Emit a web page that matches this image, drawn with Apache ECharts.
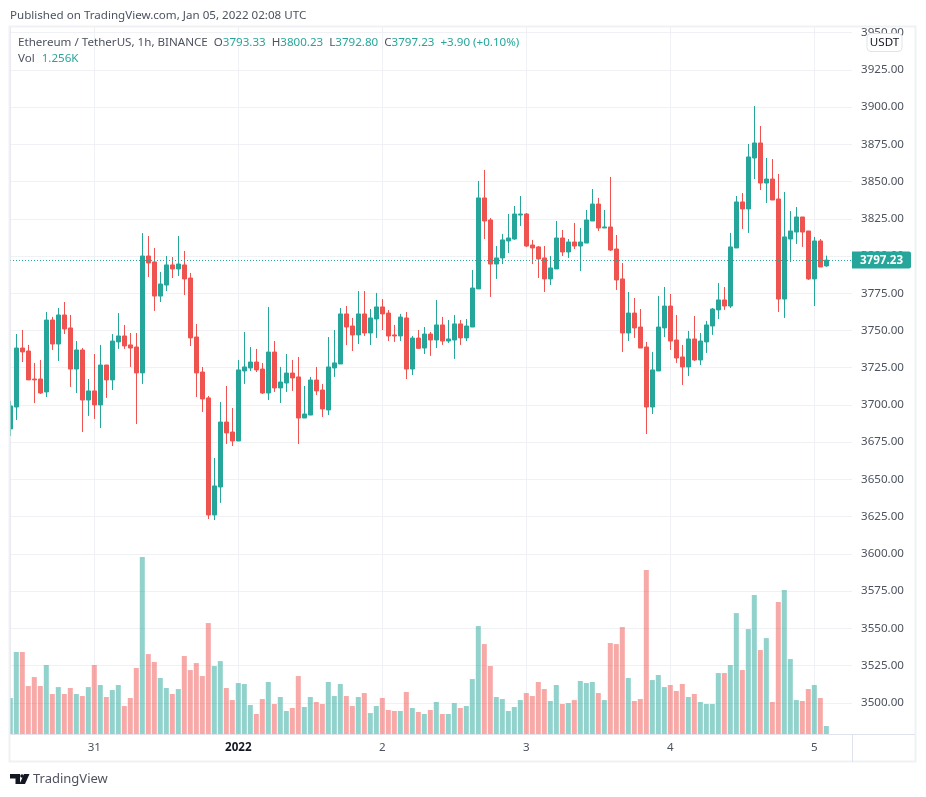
<!DOCTYPE html>
<html>
<head>
<meta charset="utf-8">
<title>ETHUSDT 1h</title>
<script src="https://cdn.jsdelivr.net/npm/echarts@6/dist/echarts.min.js"></script>
<style>
  html, body { margin: 0; padding: 0; background: #fff; }
  #chart { width: 926px; height: 797px; }
</style>
</head>
<body>
<div id="chart"></div>
<script>
// hourly candles, index 0 is the partly hidden one on the left edge
var opens = [
  3683.9,3698.6,3738.2,3736.2,3717.4,3717.4,3708.7,3757.0,3740.9,3760.4,
  3751.7,3724.1,3736.9,3703.3,3709.4,3700.0,3726.8,3716.8,3742.3,3746.3,
  3740.3,3738.9,3721.5,3800.0,3796.0,3773.1,3780.5,3794.0,3791.3,3794.0,
  3785.2,3745.6,3722.1,3704.7,3626.1,3644.9,3688.5,3681.8,3675.8,3722.8,
  3724.8,3728.8,3724.1,3708.0,3735.5,3711.4,3714.7,3721.4,3718.8,3691.2,
  3693.2,3716.7,3710.0,3696.6,3724.8,3727.5,3761.1,3753.0,3747.0,3761.1,
  3748.3,3757.7,3765.8,3761.7,3747.0,3746.3,3758.4,3724.1,3744.9,3738.2,
  3747.6,3743.6,3753.7,3742.9,3743.6,3754.4,3745.0,3752.3,3777.9,3839.0,
  3824.2,3794.6,3798.7,3810.1,3811.4,3827.5,3828.2,3807.4,3806.1,3798.7,
  3784.6,3791.3,3812.1,3802.7,3809.4,3806.7,3808.7,3823.5,3834.9,3818.8,
  3819.5,3804.7,3784.6,3748.3,3761.7,3752.3,3738.9,3698.6,3722.8,3751.7,
  3766.4,3743.6,3732.2,3725.5,3744.3,3730.2,3742.3,3753.0,3763.8,3770.5,
  3766.4,3805.4,3836.3,3831.6,3865.8,3875.9,3849.0,3851.7,3838.3,3771.1,
  3811.4,3816.1,3826.2,3816.8,3784.6,3810.1,3793.33
];
var closes = [
  3699.3,3738.2,3735.6,3716.8,3716.8,3708.0,3757.0,3740.9,3760.4,3751.0,
  3724.1,3736.9,3703.3,3709.4,3700.0,3726.8,3716.8,3742.9,3746.3,3739.6,
  3738.2,3721.5,3800.0,3795.3,3773.1,3781.2,3794.0,3791.3,3794.6,3784.6,
  3745.0,3721.5,3704.0,3626.1,3645.6,3688.5,3681.2,3675.8,3723.5,3725.5,
  3728.8,3723.5,3708.0,3735.5,3711.4,3715.4,3721.4,3718.1,3691.2,3693.9,
  3716.7,3709.4,3697.3,3725.5,3728.2,3761.1,3752.3,3747.0,3761.1,3748.3,
  3758.4,3765.8,3761.1,3746.3,3746.3,3759.0,3724.1,3744.9,3738.0,3747.6,
  3743.6,3753.7,3742.9,3744.3,3754.4,3745.0,3753.0,3778.5,3839.0,3823.5,
  3794.6,3798.7,3810.8,3812.1,3828.2,3828.2,3806.7,3805.4,3798.0,3784.6,
  3792.0,3812.1,3802.7,3809.4,3806.7,3809.4,3824.2,3834.9,3818.8,3819.5,
  3804.0,3783.9,3748.3,3761.7,3751.7,3738.2,3698.6,3723.5,3752.3,3766.4,
  3742.9,3731.5,3725.5,3744.3,3730.2,3742.9,3753.7,3764.4,3770.5,3766.4,
  3806.1,3836.3,3831.6,3866.5,3875.9,3849.0,3851.7,3837.6,3771.1,3812.8,
  3816.8,3826.2,3816.1,3784.6,3810.1,3792.6,3797.23
];
var lows = [
  3679.2,3689.9,3728.8,3716.8,3701.3,3707.4,3705.3,3736.9,3729.5,3747.6,
  3712.1,3708.0,3681.8,3692.6,3690.6,3684.5,3704.7,3710.0,3737.6,3737.6,
  3725.5,3687.2,3714.1,3785.9,3763.1,3769.1,3776.5,3785.2,3786.6,3773.8,
  3739.6,3705.3,3695.3,3623.4,3622.7,3634.2,3673.8,3672.4,3675.8,3714.1,
  3722.8,3722.1,3707.3,3703.3,3708.7,3701.3,3708.7,3709.4,3673.8,3691.2,
  3693.2,3706.7,3691.9,3693.2,3718.8,3727.5,3740.2,3736.2,3740.9,3746.3,
  3740.2,3744.9,3750.3,3742.9,3742.3,3742.9,3717.4,3720.1,3737.6,3734.2,
  3732.9,3738.2,3740.3,3741.6,3730.9,3740.3,3742.9,3752.3,3777.9,3811.4,
  3772.5,3784.6,3794.6,3802.0,3810.8,3820.2,3806.1,3794.6,3785.2,3775.8,
  3780.5,3791.3,3800.0,3798.7,3804.7,3789.9,3808.7,3823.5,3816.8,3818.8,
  3803.4,3777.2,3735.6,3742.9,3745.0,3738.2,3680.5,3693.9,3722.8,3745.6,
  3736.9,3728.2,3713.4,3719.4,3729.5,3726.8,3734.9,3747.0,3757.7,3763.8,
  3765.1,3805.4,3818.1,3815.5,3851.7,3844.3,3835.6,3837.6,3762.4,3758.4,
  3796.0,3808.1,3806.1,3783.9,3766.4,3792.6,3792.80
];
var highs = [
  3702.7,3747.6,3750.3,3740.3,3728.2,3730.2,3762.4,3759.1,3765.1,3769.1,
  3760.4,3742.9,3738.2,3717.4,3734.2,3740.3,3726.8,3747.6,3761.7,3753.7,
  3748.3,3748.3,3815.4,3813.4,3805.4,3789.3,3800.0,3799.3,3813.4,3803.4,
  3788.6,3754.3,3725.5,3706.0,3664.4,3702.0,3712.7,3697.9,3730.2,3749.0,
  3738.9,3737.6,3728.2,3765.8,3742.9,3725.5,3734.2,3730.2,3732.2,3712.7,
  3718.8,3725.5,3714.1,3745.6,3750.3,3765.1,3766.4,3758.4,3776.5,3776.5,
  3764.4,3775.2,3771.1,3763.7,3753.7,3761.1,3762.4,3746.3,3750.3,3752.3,
  3749.0,3770.5,3759.1,3757.0,3760.4,3757.0,3757.7,3790.6,3850.4,3857.8,
  3825.5,3806.7,3814.8,3828.2,3833.6,3840.3,3828.9,3810.8,3806.7,3806.7,
  3800.0,3823.5,3817.5,3811.4,3822.2,3818.8,3830.9,3845.0,3839.0,3830.9,
  3853.1,3814.1,3795.3,3775.8,3771.8,3764.4,3742.3,3735.6,3773.2,3779.2,
  3774.5,3760.4,3740.3,3749.7,3759.7,3748.3,3756.4,3765.1,3781.9,3779.2,
  3815.5,3840.3,3842.3,3875.2,3900.7,3887.3,3865.8,3865.1,3855.1,3843.0,
  3830.2,3832.9,3826.2,3816.8,3812.8,3811.4,3800.23
];
// volume in thousands of ETH
var volumes = [
  5.65,12.87,12.87,7.53,8.94,7.53,10.83,6.28,7.37,6.28,
  7.22,6.28,5.96,7.37,10.83,7.69,5.81,6.90,7.69,4.39,
  5.65,10.36,27.77,12.55,11.30,8.79,7.22,6.28,7.06,12.24,
  10.04,11.14,9.10,17.42,10.67,11.45,7.22,5.33,8.00,7.85,
  4.55,3.14,5.49,8.16,4.71,5.81,3.61,4.08,9.10,4.24,
  5.81,5.02,4.71,8.16,5.96,7.85,5.96,4.39,5.81,6.43,
  3.29,4.39,5.65,3.77,3.61,3.61,6.59,4.08,3.45,3.14,
  3.77,5.02,3.14,3.14,4.86,4.08,4.39,8.63,16.95,14.12,
  10.67,5.81,5.49,3.61,4.24,5.33,6.43,5.96,8.16,7.06,
  5.18,7.69,4.71,4.86,5.33,8.32,8.00,8.16,6.43,5.33,
  14.28,14.12,16.79,8.79,5.18,5.49,25.73,8.47,9.26,7.37,
  7.69,6.75,7.85,5.81,6.28,5.02,4.71,4.71,9.57,9.57,
  10.83,18.98,10.04,16.47,21.81,13.18,15.06,5.02,20.71,22.59,
  11.77,5.33,5.18,7.06,7.69,5.65,1.256
];
var dayTicks = [14, 38, 62, 86, 110, 134];
var dayLabels = ['31', '2022', '2', '3', '4', '5'];
var priceTicks = [3500, 3525, 3550, 3575, 3600, 3625, 3650, 3675, 3700, 3725, 3750, 3775,
  3800, 3825, 3850, 3875, 3900, 3925, 3950];

var UP = '#26a69a';
var DOWN = '#ef5350';
var UP_VOL = 'rgba(38,166,154,0.5)';
var DOWN_VOL = 'rgba(239,83,80,0.5)';
var GRID = '#f0f1f4';
var BORDER = '#e0e3eb';
var TEXT = '#4c525e';
var FONT = '"Noto Sans", sans-serif';
var FONT_SIZE = 11.6;

var lastClose = closes[closes.length - 1];

var candles = opens.map(function (o, i) {
  return [i, o, closes[i], lows[i], highs[i]];
});
var volumeBars = volumes.map(function (v, i) {
  return {
    value: [i, v],
    itemStyle: {color: closes[i] >= opens[i] ? UP_VOL : DOWN_VOL}
  };
});

function legendText() {
  var up = function (s) { return '{up|' + s + '}'; };
  return '{dark|Ethereum / TetherUS, 1h, BINANCE}{gap|}' +
    '{dark|O}' + up('3793.33') + '{gap|}' +
    '{dark|H}' + up('3800.23') + '{gap|}' +
    '{dark|L}' + up('3792.80') + '{gap|}' +
    '{dark|C}' + up('3797.23') + '{gap|}' + up('+3.90 (+0.10%)');
}

var chart = echarts.init(document.getElementById('chart'));

var options = {
  animation: false,
  backgroundColor: '#fff',
  textStyle: {fontFamily: FONT},
  grid: {left: 10, right: 74, top: 27, bottom: 63, containLabel: false},
  xAxis: {
    type: 'value',
    min: -0.05,
    max: 140.28,
    axisLine: {show: true, lineStyle: {color: BORDER}},
    axisTick: {show: false, customValues: dayTicks},
    splitLine: {show: true, lineStyle: {color: GRID}},
    axisLabel: {
      customValues: dayTicks,
      margin: 8,
      color: TEXT,
      fontSize: FONT_SIZE,
      fontFamily: FONT,
      formatter: function (v) {
        var s = dayLabels[dayTicks.indexOf(v)];
        return s === '2022' ? '{year|2022}' : s;
      },
      rich: {year: {fontWeight: 'bold', color: '#131722', fontSize: FONT_SIZE, fontFamily: FONT}}
    }
  },
  yAxis: [
    {
      type: 'value',
      position: 'right',
      min: 3479.02,
      max: 3953.77,
      axisLine: {show: true, lineStyle: {color: BORDER}},
      axisTick: {show: false, customValues: priceTicks},
      splitLine: {show: true, lineStyle: {color: GRID}},
      axisLabel: {
        customValues: priceTicks,
        margin: 9,
        padding: [2, 0, 0, 0],
        color: TEXT,
        fontSize: FONT_SIZE,
        fontFamily: FONT,
        formatter: function (v) { return v.toFixed(2); }
      }
    },
    {type: 'value', show: false, min: 0, max: 111, splitLine: {show: false}}
  ],
  series: [
    {
      name: 'Vol',
      type: 'bar',
      yAxisIndex: 1,
      barWidth: 5,
      clip: true,
      silent: true,
      data: volumeBars
    },
    {
      name: 'ETHUSDT',
      type: 'candlestick',
      yAxisIndex: 0,
      barWidth: 4,
      encode: {x: 0, y: [1, 2, 3, 4]},
      itemStyle: {color: UP, color0: DOWN, borderColor: UP, borderColor0: DOWN, borderWidth: 1},
      data: candles,
      markLine: {
        silent: true,
        symbol: 'none',
        label: {show: false},
        lineStyle: {color: UP, type: [1, 2], width: 1},
        data: [{yAxis: lastClose}]
      }
    }
  ]
};
chart.setOption(options);

// frame, header texts, badge and price tag go on top of the plot
var tagY = chart.convertToPixel({yAxisIndex: 0}, lastClose);
chart.setOption({
  graphic: [
    {type: 'rect', z: 90, shape: {x: 0, y: 0, width: 9, height: 797}, style: {fill: '#fff'}},
    {type: 'rect', z: 91, shape: {x: 9.5, y: 26.5, width: 906, height: 735},
      style: {fill: 'none', stroke: GRID, lineWidth: 2}},
    {type: 'line', z: 91, shape: {x1: 852.5, y1: 734, x2: 852.5, y2: 762}, style: {stroke: BORDER, lineWidth: 1}},
    {type: 'line', z: 91, shape: {x1: 852, y1: 734.5, x2: 915, y2: 734.5}, style: {stroke: BORDER, lineWidth: 1}},
    {type: 'text', z: 95, x: 10, y: 15.5, style: {text: 'Published on TradingView.com, Jan 05, 2022 02:08 UTC',
      fontFamily: FONT, fontSize: FONT_SIZE, fill: '#4c525e', verticalAlign: 'middle'}},
    {type: 'text', z: 95, x: 18, y: 43, style: {
      text: legendText(), verticalAlign: 'middle', fontFamily: FONT, fontSize: FONT_SIZE,
      rich: {
        dark: {fill: '#4c525e', fontFamily: FONT, fontSize: FONT_SIZE},
        up: {fill: UP, fontFamily: FONT, fontSize: FONT_SIZE},
        gap: {width: 6}
      }
    }},
    {type: 'text', z: 95, x: 18, y: 59, style: {
      text: '{dark|Vol}{gap|}{up|1.256K}', verticalAlign: 'middle',
      rich: {
        dark: {fill: '#4c525e', fontFamily: FONT, fontSize: FONT_SIZE},
        up: {fill: UP, fontFamily: FONT, fontSize: FONT_SIZE},
        gap: {width: 7}
      }
    }},
    {type: 'rect', z: 96, shape: {x: 867, y: 33.5, width: 35, height: 18, r: 4},
      style: {fill: '#fff', stroke: BORDER, lineWidth: 1}},
    {type: 'text', z: 97, x: 884.5, y: 43, style: {text: 'USDT', fontFamily: FONT, fontSize: FONT_SIZE,
      fill: '#131722', align: 'center', verticalAlign: 'middle'}},
    {type: 'rect', z: 96, shape: {x: 852, y: tagY - 8.5, width: 59, height: 17, r: [0, 2, 2, 0]},
      style: {fill: UP}},
    {type: 'text', z: 97, x: 881.5, y: tagY + 0.5, style: {text: lastClose.toFixed(2), fontFamily: FONT, fontSize: FONT_SIZE,
      fontWeight: 'bold', fill: '#fff', align: 'center', verticalAlign: 'middle'}},
    // TradingView mark
    {type: 'polygon', z: 95, shape: {points: [[10, 774], [20, 774], [20, 784], [15.5, 784], [15.5, 778.5], [10, 778.5]]},
      style: {fill: '#131722'}},
    {type: 'polygon', z: 95, shape: {points: [[24, 774], [29.5, 774], [25, 784], [19.5, 784]]},
      style: {fill: '#131722'}},
    {type: 'circle', z: 95, shape: {cx: 22, cy: 776, r: 1.8}, style: {fill: '#131722'}},
    {type: 'text', z: 95, x: 33, y: 779.5, style: {text: 'TradingView', fontFamily: FONT, fontSize: 13,
      fill: '#50535e', verticalAlign: 'middle'}}
  ]
});
</script>
</body>
</html>
